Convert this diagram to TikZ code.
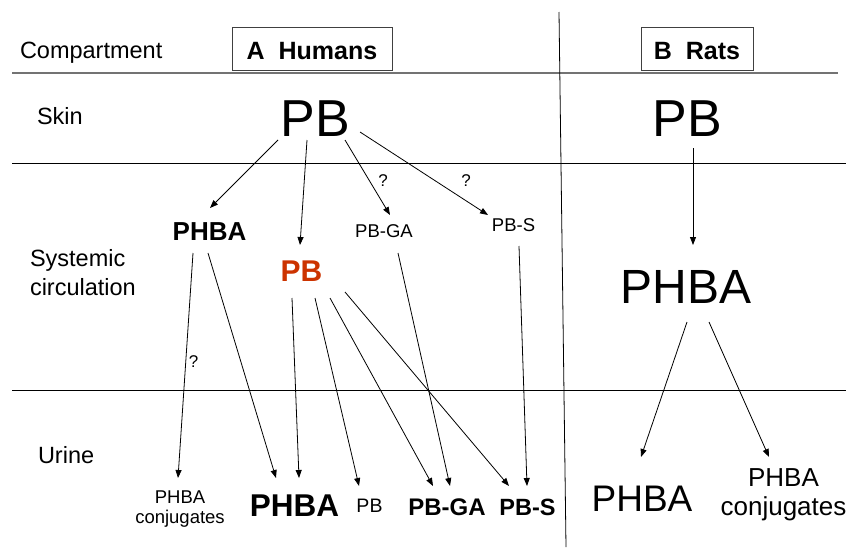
\documentclass[tikz,border=0pt]{standalone}
\usepackage{fontspec}
\setmainfont{Liberation Sans}
\usetikzlibrary{arrows.meta,calc}
\definecolor{pbred}{RGB}{204,51,0}
\newcommand\fsz[2]{\fontsize{#1}{#2}\selectfont}
\begin{document}
\begin{tikzpicture}[x=1pt,y=-1pt,
  txt/.style={inner sep=0pt,outer sep=0pt,anchor=base},
  arr/.style={-{Triangle[length=8pt,width=6pt]},line width=0.8pt},
  rule/.style={line width=0.8pt},
  hdr/.style={draw=black!75,line width=0.8pt,minimum width=160pt,minimum height=43pt,inner sep=0pt,text height=21pt,text depth=0pt,font=\fsz{25}{30}\bfseries},
  lbl/.style={txt,anchor=base west,font=\fsz{23.5}{28.5}},
  qm/.style={txt,font=\fsz{17}{20}}
]
\useasboundingbox (0,0) rectangle (848,549);
% rules
\draw[line width=2pt,black!55] (12,72.5) -- (838,72.5);
\draw[rule] (12,163.3) -- (846,163.3);
\draw[rule] (12,390) -- (846,390);
\draw[rule] (559,12) -- (566,547);
% headers
\node[hdr] (hum) at (312,48.5) {A\ \ Humans};
\node[hdr,minimum width=112pt] (rat) at (697,48.5) {B\ \ Rats};
% compartment labels (base of a multi-line node = last line)
\node[lbl] (comp) at (20,58) {Compartment};
\node[lbl] (skin) at (37,124) {Skin};
\node[lbl,align=left] (sys) at (30,295) {Systemic\\circulation};
\node[lbl] (uri) at (38,463) {Urine};
% humans
\node[txt,font=\fsz{52}{60}] (pbA) at (315,136.7) {PB};
\node[txt,font=\fsz{26}{30}\bfseries] (phbaA) at (209.5,240.7) {PHBA};
\node[txt,font=\fsz{30}{36}\bfseries,text=pbred] (pbC) at (301.5,281.7) {PB};
\node[txt,font=\fsz{18.5}{22}] (pbgaA) at (384,237) {PB-GA};
\node[txt,font=\fsz{18.5}{22}] (pbsA) at (513.5,231.7) {PB-S};
\node[qm] (q1) at (383,186) {?};
\node[qm] (q2) at (466,186) {?};
\node[qm] (q3) at (193.5,367) {?};
\node[txt,font=\fsz{18.5}{20},align=center] (conjA) at (180,523) {PHBA\\conjugates};
\node[txt,font=\fsz{31.5}{36}\bfseries] (phbaB) at (294.5,516.5) {PHBA};
\node[txt,font=\fsz{19.5}{24}] (pbB) at (369.5,512.5) {PB};
\node[txt,font=\fsz{24}{28}\bfseries] (pbgaB) at (447,515.5) {PB-GA};
\node[txt,font=\fsz{23.5}{28}\bfseries] (pbsB) at (527.5,515.5) {PB-S};
% rats
\node[txt,font=\fsz{52}{60}] (pbR) at (687.5,136.7) {PB};
\node[txt,font=\fsz{48}{56}] (phbaR) at (686,303) {PHBA};
\node[txt,font=\fsz{37}{44}] (phbaR2) at (642,511) {PHBA};
\node[txt,font=\fsz{26}{28.5},align=center] (conjR) at (783.5,515) {PHBA\\conjugates};
% arrows humans
\draw[arr] ($(pbA.base)+(-37,3.3)$) -- ($(phbaA.base)+(0.5,-32.7)$);
\draw[arr] ($(pbA.base)+(-8,3.3)$) -- ($(pbC.base)+(-1.5,-36.7)$);
\draw[arr] ($(pbA.base)+(30,3.3)$) -- ($(pbgaA.base)+(6,-22)$);
\draw[arr] ($(pbA.base)+(45,-4.7)$) -- ($(pbsA.base)+(-25.5,-16.7)$);
\draw[arr] ($(phbaA.base)+(-16.5,12.3)$) -- ($(conjA.base)+(-2,-45)$);
\draw[arr] ($(phbaA.base)+(-1.5,12.3)$) -- ($(phbaB.base)+(-18.5,-38.5)$);
\draw[arr] ($(pbC.base)+(-9.5,16.3)$) -- ($(phbaB.base)+(4.5,-38.5)$);
\draw[arr] ($(pbC.base)+(13.5,16.3)$) -- ($(pbB.base)+(-10.5,-26.5)$);
\draw[arr] ($(pbC.base)+(28.5,16.3)$) -- ($(pbgaB.base)+(-14,-29.5)$);
\draw[arr] ($(pbC.base)+(43.5,10.3)$) -- ($(pbsB.base)+(-18.5,-29.5)$);
\draw[arr] ($(pbgaA.base)+(14,16)$) -- ($(pbgaB.base)+(3,-29.5)$);
\draw[arr] ($(pbsA.base)+(5.5,14.3)$) -- ($(pbsB.base)+(-0.5,-29.5)$);
% arrows rats
\draw[arr] ($(pbR.base)+(5.5,11.3)$) -- ($(phbaR.base)+(7,-58)$);
\draw[arr] ($(phbaR.base)+(1,19)$) -- ($(phbaR2.base)+(-1,-54)$);
\draw[arr] ($(phbaR.base)+(23,19)$) -- ($(conjR.base)+(-14.5,-58)$);
\end{tikzpicture}
\end{document}
